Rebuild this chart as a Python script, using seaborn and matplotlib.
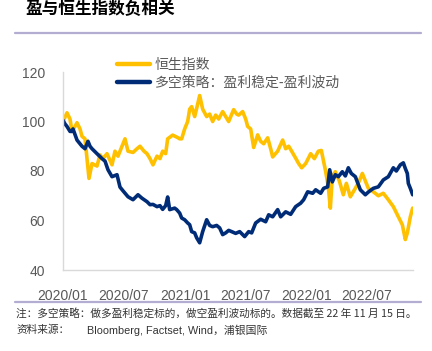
import matplotlib
matplotlib.use("Agg")
import matplotlib.pyplot as plt
import matplotlib.dates as mdates
from matplotlib.lines import Line2D
import pandas as pd
import seaborn as sns

# ---- data ----
hsi_dates = [
    "2020-01-01", "2020-01-13", "2020-01-22", "2020-01-28", "2020-02-06", "2020-02-12",
    "2020-02-21", "2020-02-27", "2020-03-07", "2020-03-13", "2020-03-19", "2020-03-28",
    "2020-04-12", "2020-04-21", "2020-04-30", "2020-05-12", "2020-05-27", "2020-06-05",
    "2020-06-14", "2020-06-26", "2020-07-05", "2020-07-14", "2020-07-29", "2020-08-10",
    "2020-08-19", "2020-08-31", "2020-09-09", "2020-09-18", "2020-09-27", "2020-10-09",
    "2020-10-18", "2020-10-26", "2020-11-04", "2020-11-10", "2020-11-25", "2020-12-10",
    "2020-12-16", "2020-12-22", "2020-12-31", "2021-01-09", "2021-01-15", "2021-01-21",
    "2021-01-30", "2021-02-08", "2021-02-14", "2021-02-23", "2021-03-07", "2021-03-16",
    "2021-03-25", "2021-04-03", "2021-04-12", "2021-04-24", "2021-05-03", "2021-05-12",
    "2021-05-27", "2021-06-05", "2021-06-11", "2021-06-23", "2021-07-02", "2021-07-08",
    "2021-07-17", "2021-07-26", "2021-08-07", "2021-08-16", "2021-08-25", "2021-09-06",
    "2021-09-15", "2021-09-21", "2021-10-06", "2021-10-21", "2021-10-30", "2021-11-08",
    "2021-11-17", "2021-11-29", "2021-12-08", "2021-12-17", "2021-12-29", "2022-01-13",
    "2022-01-24", "2022-02-05", "2022-02-14", "2022-02-26", "2022-03-07", "2022-03-13",
    "2022-03-19", "2022-03-28", "2022-04-09", "2022-04-21", "2022-04-30", "2022-05-12",
    "2022-05-27", "2022-06-08", "2022-06-17", "2022-06-26", "2022-07-05", "2022-07-20",
    "2022-08-04", "2022-08-19", "2022-09-03", "2022-09-18", "2022-10-03", "2022-10-15",
    "2022-10-24", "2022-10-30", "2022-11-08", "2022-11-15",
]
hsi_values = [
    100, 103.5, 101, 96, 98, 99.5,
    97, 94, 93, 85, 77, 83,
    82, 86.5, 85, 87, 82.5, 88,
    86, 90, 93, 88, 87.5, 89,
    90, 88, 87, 85, 82.5, 86,
    85, 88, 87, 93, 94.5, 93.5,
    93, 93, 97, 100, 105, 106,
    102, 107, 110.5, 105, 102, 103,
    100, 102.6, 101, 104, 102, 100,
    104.8, 103, 102.6, 104, 101, 98,
    97, 89.5, 94.6, 92, 91, 93.4,
    89, 85.7, 88, 92.5, 89, 90,
    88, 85.2, 83, 81.3, 83, 87,
    85, 88, 88.3, 80.5, 73.6, 65,
    77.7, 79.7, 76, 70.4, 75, 69.6,
    73, 76, 79, 76, 73, 71.6,
    70, 71, 68.4, 65.6, 61.5, 58.3,
    52.3, 55, 61.5, 65,
]

ls_dates = [
    "2020-01-01", "2020-01-07", "2020-01-13", "2020-01-22", "2020-01-28", "2020-01-31",
    "2020-02-12", "2020-02-21", "2020-02-27", "2020-03-07", "2020-03-16", "2020-03-22",
    "2020-03-28", "2020-04-12", "2020-04-27", "2020-05-06", "2020-05-15", "2020-05-27",
    "2020-06-11", "2020-06-20", "2020-06-29", "2020-07-14", "2020-07-29", "2020-08-13",
    "2020-08-25", "2020-09-09", "2020-09-18", "2020-09-27", "2020-10-09", "2020-10-18",
    "2020-10-26", "2020-11-04", "2020-11-10", "2020-11-16", "2020-12-01", "2020-12-07",
    "2020-12-16", "2020-12-22", "2020-12-31", "2021-01-09", "2021-01-15", "2021-01-21",
    "2021-01-30", "2021-02-05", "2021-02-14", "2021-02-23", "2021-03-07", "2021-03-16",
    "2021-03-25", "2021-04-06", "2021-04-15", "2021-04-24", "2021-05-03", "2021-05-12",
    "2021-05-21", "2021-06-02", "2021-06-14", "2021-06-29", "2021-07-11", "2021-07-20",
    "2021-08-01", "2021-08-16", "2021-08-31", "2021-09-09", "2021-09-21", "2021-10-06",
    "2021-10-15", "2021-10-30", "2021-11-14", "2021-11-29", "2021-12-14", "2021-12-23",
    "2022-01-04", "2022-01-19", "2022-01-28", "2022-02-12", "2022-02-21", "2022-03-05",
    "2022-03-11", "2022-03-19", "2022-03-28", "2022-04-06", "2022-04-18", "2022-04-27",
    "2022-05-06", "2022-05-15", "2022-05-27", "2022-06-11", "2022-06-26", "2022-07-05",
    "2022-07-20", "2022-08-04", "2022-08-19", "2022-09-03", "2022-09-18", "2022-09-27",
    "2022-10-09", "2022-10-18", "2022-10-24", "2022-10-30", "2022-11-02", "2022-11-08",
    "2022-11-15",
]
ls_values = [
    100.5, 99, 98, 96, 96, 97,
    92.5, 91, 90, 89, 92, 90,
    89, 87, 85, 84, 80.5, 77.7,
    78.5, 73.5, 72, 69.6, 68.4, 70.4,
    69, 67.6, 66.4, 66.5, 65.6, 66,
    64.5, 66, 69.5, 64.4, 65, 64.4,
    63, 61, 60.3, 59, 58.3, 55.5,
    55, 53, 51, 55.5, 60.3, 58,
    57.5, 58, 57, 54.3, 55, 56,
    55.5, 54.8, 55.5, 53.5, 55.5, 55,
    59, 60.5, 59.5, 62.3, 61.5, 64.4,
    61.5, 63.5, 62.5, 65.6, 67, 68.4,
    71.6, 71, 72.4, 71, 73, 73.6,
    80.5, 75.6, 78.5, 77.7, 79.7, 78,
    81.3, 79, 77.7, 72.4, 70.4, 71.5,
    73, 73.6, 76.4, 77.7, 81.3, 80,
    82.5, 83.3, 81, 79, 75, 73,
    70.4,
]

series_names = ["恒生指数", "多空策略：盈利稳定-盈利波动"]
series_colors = ["#FFC000", "#002C77"]
x_tick_dates = ["2020-01-01", "2020-07-01", "2021-01-01", "2021-07-01", "2022-01-01", "2022-07-01"]
y_ticks = [40, 60, 80, 100, 120]

title_text = "盈与恒生指数负相关"
note_text = "注：多空策略：做多盈利稳定标的，做空盈利波动标的。数据截至 22 年 11 月 15 日。"
source_label = "资料来源："
source_text = "Bloomberg, Factset, Wind，浦银国际"

# ---- build table ----
df = pd.concat([
    pd.DataFrame({"date": pd.to_datetime(hsi_dates), "value": hsi_values, "series": series_names[0]}),
    pd.DataFrame({"date": pd.to_datetime(ls_dates), "value": ls_values, "series": series_names[1]}),
], ignore_index=True)

sns.set_theme(style="white")
plt.rcParams["font.family"] = ["Liberation Sans", "Noto Sans CJK SC", "DejaVu Sans"]

W, H = 432, 351
fig = plt.figure(figsize=(W / 100, H / 100), dpi=100)
fig.patch.set_facecolor("white")

ax_left, ax_right, ax_top, ax_bottom = 63, 413, 72, 270
ax = fig.add_axes([ax_left / W, 1 - ax_bottom / H, (ax_right - ax_left) / W, (ax_bottom - ax_top) / H])

sns.lineplot(data=df, x="date", y="value", hue="series", hue_order=series_names,
             palette=series_colors, linewidth=2.6, ax=ax, legend=False,
             estimator=None, sort=True)

ax.set_xlim(pd.Timestamp("2020-01-01"), pd.Timestamp("2022-11-16"))
ax.set_ylim(40, 120)
ax.set_yticks(y_ticks)
ax.set_xticks(pd.to_datetime(x_tick_dates))
ax.xaxis.set_major_formatter(mdates.DateFormatter("%Y/%m"))
ax.set_xlabel("")
ax.set_ylabel("")
ax.tick_params(axis="both", length=0, labelsize=10, colors="#595959")
ax.tick_params(axis="y", pad=13)
ax.tick_params(axis="x", pad=14)
for s in ["top", "right"]:
    ax.spines[s].set_visible(False)
for s in ["left", "bottom"]:
    ax.spines[s].set_color("#D9D9D9")
    ax.spines[s].set_linewidth(1.0)
ax.grid(False)

# legend
handles = [Line2D([0], [0], color=c, lw=3.2) for c in series_colors]
leg = fig.legend(handles, series_names, loc="upper left",
                 bbox_to_anchor=(104 / W, 1 - 45 / H), frameon=False,
                 handlelength=2.4, handletextpad=0.35, labelspacing=0.3,
                 prop={"family": ["Noto Sans CJK SC"], "size": 10})
for t in leg.get_texts():
    t.set_color("#595959")

# title and decorations
fig.text(25 / W, 1 - 9 / H, title_text, fontsize=12, fontweight="bold",
         family=["Noto Sans CJK SC"], color="#000000", va="center", ha="left")
fig.add_artist(Line2D([15 / W, 421 / W], [1 - 33 / H, 1 - 33 / H], color="#B3ADD1", lw=1.6))
fig.add_artist(Line2D([15 / W, 421 / W], [1 - 302 / H, 1 - 302 / H], color="#B3ADD1", lw=1.6))

fig.text(16 / W, 1 - 313 / H, note_text, fontsize=7.7, family=["Noto Sans CJK SC"],
         color="#333333", va="center", ha="left")
fig.text(16 / W, 1 - 330 / H, source_label, fontsize=7.7, family=["Noto Sans CJK SC"],
         color="#333333", va="center", ha="left")
fig.text(87 / W, 1 - 330 / H, source_text, fontsize=7.8,
         family=["Liberation Sans", "Noto Sans CJK SC"],
         color="#333333", va="center", ha="left")

fig.savefig("out.png", dpi=100, facecolor="white")
